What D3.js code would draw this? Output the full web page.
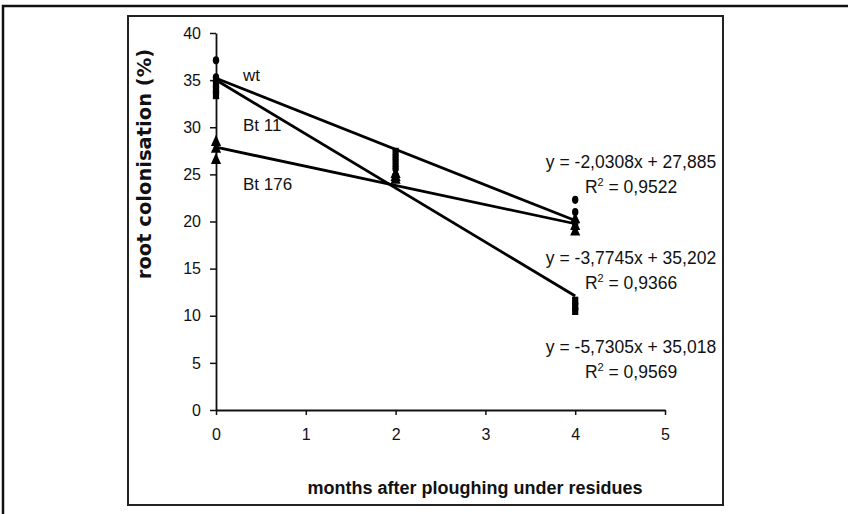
<!DOCTYPE html>
<html>
<head>
<meta charset="utf-8">
<script src="https://cdn.jsdelivr.net/npm/d3@7"></script>
<style>
  body { margin: 0; background: #fff; }
  svg { display: block; }
</style>
</head>
<body>
<div id="chart"></div>
<script>
// months after ploughing (x positions of the samples)
const months = [0, 2, 4];

// replicate values per month
const wtValues = [[37.1, 35.3, 34.9], [26.8, 25.6, 24.6], [22.3, 21.0, 19.8]];
const bt11Values = [[34.6, 34.0, 33.4], [27.4, 26.2, 24.7], [11.6, 11.0, 10.5]];
const bt176Values = [[28.4, 27.7, 26.5], [25.0, 24.7, 24.4], [20.2, 19.5, 18.9]];

// regression lines: slope, intercept, R²
const seriesNames = ['wt', 'Bt 11', 'Bt 176'];
const slopes = [-3.7745, -5.7305, -2.0308];
const intercepts = [35.202, 35.018, 27.885];
const r2Values = [0.9366, 0.9569, 0.9522];

const xTicks = [0, 1, 2, 3, 4, 5];
const yTicks = [0, 5, 10, 15, 20, 25, 30, 35, 40];

const W = 848, H = 514;
const svg = d3.select('#chart').append('svg')
    .attr('width', W)
    .attr('height', H);

// outer frame (runs off the page to the right and bottom)
svg.append('rect')
    .attr('x', 3).attr('y', 6)
    .attr('width', 900).attr('height', 600)
    .attr('fill', 'none')
    .attr('stroke', '#111')
    .attr('stroke-width', 2.5);

// inner chart frame
svg.append('rect')
    .attr('x', 128).attr('y', 16)
    .attr('width', 595).attr('height', 489)
    .attr('fill', 'none')
    .attr('stroke', '#222')
    .attr('stroke-width', 2);

const x = d3.scaleLinear().domain([0, 5]).range([216, 665]);
const y = d3.scaleLinear().domain([0, 40]).range([410, 33]);

const fontTick = '"Liberation Sans", Arial, sans-serif';

// axes
const xAxis = svg.append('g')
    .attr('transform', `translate(0,${y(0)})`)
    .call(d3.axisBottom(x).tickValues(xTicks).tickFormat(d3.format('d'))
        .tickSize(5).tickPadding(14).tickSizeOuter(0));
const yAxis = svg.append('g')
    .attr('transform', `translate(${x(0)},0)`)
    .call(d3.axisLeft(y).tickValues(yTicks).tickFormat(d3.format('d'))
        .tickSize(6).tickPadding(9).tickSizeOuter(0));

[xAxis, yAxis].forEach(g => {
    g.select('.domain').attr('stroke', '#111').attr('stroke-width', 1.8);
    g.selectAll('.tick line').attr('stroke', '#111').attr('stroke-width', 1.5);
    g.selectAll('.tick text')
        .style('font-family', fontTick)
        .style('font-size', '16px')
        .attr('fill', '#111');
});

// regression lines
const lineData = seriesNames.map((name, i) => ({
    name: name,
    pts: [0, 4].map(m => ({ m: m, v: slopes[i] * m + intercepts[i] }))
}));
const line = d3.line().x(d => x(d.m)).y(d => y(d.v));
svg.selectAll('.reg')
    .data(lineData)
    .enter()
    .append('path')
    .attr('class', 'reg')
    .attr('d', d => line(d.pts))
    .attr('fill', 'none')
    .attr('stroke', '#000')
    .attr('stroke-width', 2.8);

// markers
function flatten(values) {
    const out = [];
    values.forEach((reps, i) => reps.forEach(v => out.push({ m: months[i], v: v })));
    return out;
}
const markerSets = [
    { data: flatten(wtValues), type: d3.symbolCircle, size: 40 },
    { data: flatten(bt11Values), type: d3.symbolSquare, size: 48 },
    { data: flatten(bt176Values), type: d3.symbolTriangle, size: 55 }
];
markerSets.forEach(set => {
    svg.append('g').selectAll('path')
        .data(set.data)
        .enter()
        .append('path')
        .attr('d', d3.symbol().type(set.type).size(set.size))
        .attr('transform', d => `translate(${x(d.m)},${y(d.v)}) scale(0.9,1.15)`)
        .attr('fill', '#000');
});

// series labels on the left
const labelY = [81, 131, 190];
svg.selectAll('.slabel')
    .data(seriesNames)
    .enter()
    .append('text')
    .attr('class', 'slabel')
    .attr('x', 243)
    .attr('y', (d, i) => labelY[i])
    .style('font-family', fontTick)
    .style('font-size', '17px')
    .attr('fill', '#111')
    .text(d => d);

// equations on the right (order in figure: Bt 176, wt, Bt 11)
const fmt = v => String(v).replace('.', ',');
const eqOrder = [2, 0, 1];
const eqY = [168, 264, 353];
eqOrder.forEach((si, k) => {
    const sign = intercepts[si] >= 0 ? ' + ' : ' - ';
    svg.append('text')
        .attr('x', 631)
        .attr('y', eqY[k])
        .attr('text-anchor', 'middle')
        .style('font-family', fontTick)
        .style('font-size', '17.5px')
        .attr('fill', '#111')
        .text(`y = ${fmt(slopes[si])}x${sign}${fmt(Math.abs(intercepts[si]))}`);
    const r2 = svg.append('text')
        .attr('x', 631)
        .attr('y', eqY[k] + 25)
        .attr('text-anchor', 'middle')
        .style('font-family', fontTick)
        .style('font-size', '17.5px')
        .attr('fill', '#111');
    r2.append('tspan').text('R');
    r2.append('tspan').attr('dy', -7).style('font-size', '11px').text('2');
    r2.append('tspan').attr('dy', 7).text(` = ${fmt(r2Values[si])}`);
});

// axis titles
svg.append('text')
    .attr('transform', 'translate(151,164) rotate(-90)')
    .attr('text-anchor', 'middle')
    .style('font-family', '"DejaVu Sans", Verdana, sans-serif')
    .style('font-weight', 'bold')
    .style('font-size', '19.5px')
    .attr('fill', '#111')
    .text('root colonisation (%)');

svg.append('text')
    .attr('x', 475)
    .attr('y', 494)
    .attr('text-anchor', 'middle')
    .style('font-family', '"Liberation Sans", Arial, sans-serif')
    .style('font-weight', 'bold')
    .style('font-size', '18px')
    .attr('fill', '#111')
    .text('months after ploughing under residues');
</script>
</body>
</html>
